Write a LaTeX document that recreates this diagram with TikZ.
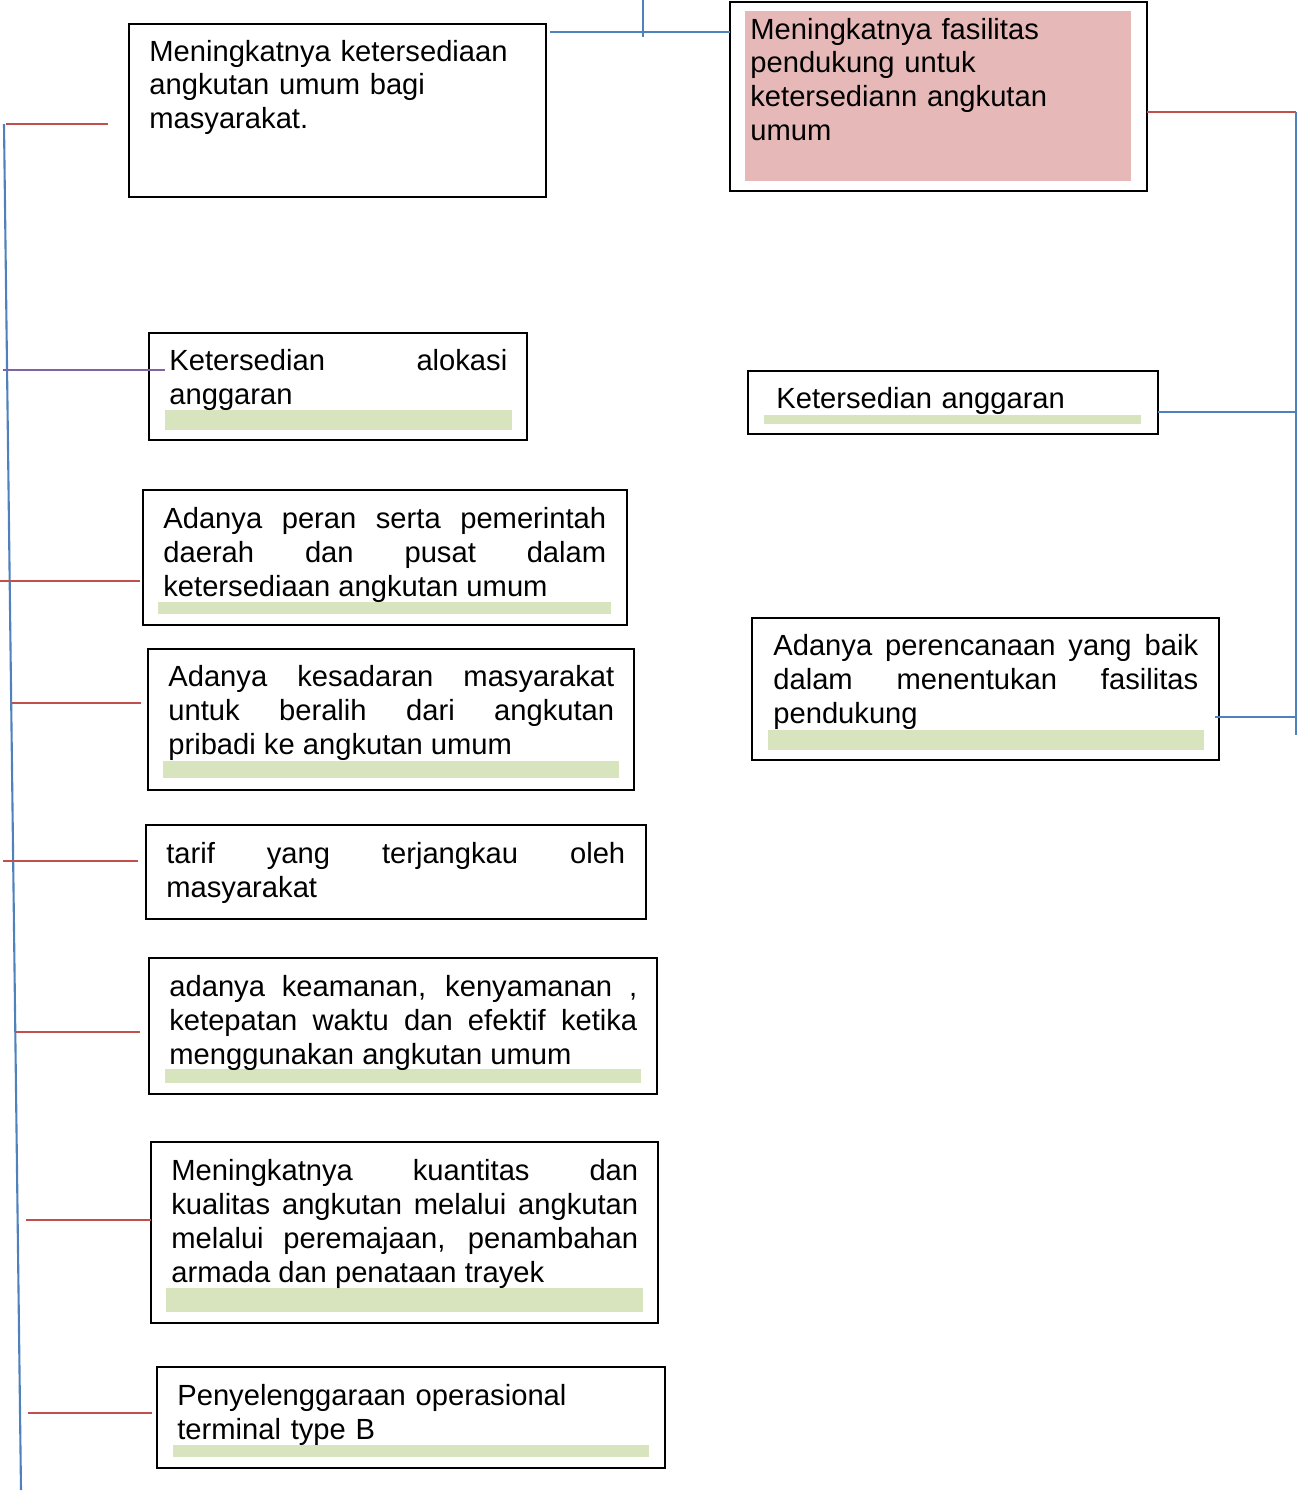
\documentclass[tikz,border=0pt]{standalone}
\usepackage{fontspec}
\setmainfont{Liberation Sans}
\usetikzlibrary{calc}
\definecolor{garisMerah}{HTML}{C0504D}
\definecolor{garisBiru}{HTML}{4F81BD}
\definecolor{garisUngu}{HTML}{8064A2}
\definecolor{isiMerah}{HTML}{E6B9B8}
\definecolor{isiHijau}{HTML}{D7E4BD}
\hbadness=10000
\hyphenpenalty=10000

\begin{document}
\begin{tikzpicture}[x=0.02cm, y=-0.02cm,
    kotak/.style 2 args={draw, line width=0.75pt, minimum width=#1cm, minimum height=#2cm, inner sep=0, outer sep=0, anchor=north west},
    teks/.style={font=\fontsize{16.6}{19.35}\selectfont, inner sep=0, anchor=base west, align=left, text width=#1cm},
    rata/.style={teks=#1, align=justify},
    merah/.style={draw=garisMerah, line width=1.2pt},
    biru/.style={draw=garisBiru, line width=1.2pt}]
            \useasboundingbox (0,0) rectangle (1297,1491);

            \node[kotak={8.34}{3.46}] (b1) at (129,24) {};
            \node[kotak={8.34}{3.78}] (b2) at (730,2) {};
            \node[kotak={7.56}{2.14}] (b3) at (149,333) {};
            \node[kotak={8.2}{1.26}] (b4) at (748,371) {};
            \node[kotak={9.68}{2.7}] (b5) at (143,490) {};
            \node[kotak={9.72}{2.82}] (b6) at (148,649) {};
            \node[kotak={10}{1.88}] (b7) at (146,825) {};
            \node[kotak={10.16}{2.72}] (b8) at (149,958) {};
            \node[kotak={10.14}{3.62}] (b9) at (151,1142) {};
            \node[kotak={10.16}{2.02}] (b10) at (157,1367) {};
            \node[kotak={9.34}{2.84}] (b11) at (752,618) {};

            \fill[isiMerah] (745,11) rectangle (1131,181);
            \fill[isiHijau] (165,410) rectangle (512,430);
            \fill[isiHijau] (764,415) rectangle (1141,424);
            \fill[isiHijau] (158,602) rectangle (611,614);
            \fill[isiHijau] (163,761) rectangle (619,778);
            \fill[isiHijau] (165,1069) rectangle (641,1083);
            \fill[isiHijau] (166,1288) rectangle (643,1312);
            \fill[isiHijau] (173,1445) rectangle (649,1457);
            \fill[isiHijau] (768,730) rectangle (1204,750);

            \node[teks=8] (t1) at (149,61) {Meningkatnya ketersediaan\\angkutan umum bagi\\masyarakat.};
            \node[teks=7.6] (t2) at (750,39) {Meningkatnya fasilitas\\pendukung untuk\\ketersediann angkutan\\umum};
            \node[rata=6.76] (t3) at (169,370) {Ketersedian alokasi\linebreak anggaran};
            \node[teks=7.6] (t4) at (776,408) {Ketersedian anggaran};
            \node[rata=8.86] (t5) at (163,528) {Adanya peran serta pemerintah\linebreak daerah dan pusat dalam\linebreak ketersediaan angkutan umum};
            \node[rata=8.92] (t6) at (168,686) {Adanya kesadaran masyarakat\linebreak untuk beralih dari angkutan\linebreak pribadi ke angkutan umum};
            \node[rata=9.18] (t7) at (166,863) {tarif yang terjangkau oleh\linebreak masyarakat};
            \node[rata=9.36] (t8) at (169,996) {adanya keamanan, kenyamanan ,\linebreak ketepatan waktu dan efektif ketika\linebreak menggunakan angkutan umum};
            \node[rata=9.34] (t9) at (171,1180) {Meningkatnya kuantitas dan\linebreak kualitas angkutan melalui angkutan\linebreak melalui peremajaan, penambahan\linebreak armada dan penataan trayek};
            \node[teks=9.5] (t10) at (177,1405) {Penyelenggaraan operasional\\terminal type B};
            \node[rata=8.5] (t11) at (773,655) {Adanya perencanaan yang baik\linebreak dalam menentukan fasilitas\linebreak pendukung};

            \coordinate (at1) at (643,0);
            \coordinate (at2) at (643,37);
            \coordinate (at3) at (643,32);
            \draw[biru] (at1) -- (at2);
            \draw[biru] ($(at3 -| b1.east)+(4,0)$) -- (at3 -| b2.west);

            \coordinate (kiA) at (4,124);
            \coordinate (kiB) at (21,1490);
            \draw[biru] (kiA) -- (kiB);
            \coordinate (r1) at (6,124);
            \coordinate (r3) at (3,370);
            \coordinate (r5) at (0,581);
            \coordinate (r6) at (12,703);
            \coordinate (r7) at (3,861);
            \coordinate (r8) at (16,1032);
            \coordinate (r9) at (26,1220);
            \coordinate (r10) at (28,1413);
            \draw[merah] (r1) -- ($(r1 -| b1.west)+(-21,0)$);
            \draw[draw=garisUngu, line width=1.2pt] (r3) -- ($(r3 -| b3.west)+(16,0)$);
            \draw[merah] (r5) -- ($(r5 -| b5.west)+(-3,0)$);
            \draw[merah] (r6) -- ($(r6 -| b6.west)+(-7,0)$);
            \draw[merah] (r7) -- ($(r7 -| b7.west)+(-8,0)$);
            \draw[merah] (r8) -- ($(r8 -| b8.west)+(-9,0)$);
            \draw[merah] (r9) -- (r9 -| b9.west);
            \draw[merah] (r10) -- ($(r10 -| b10.west)+(-5,0)$);

            \coordinate (ka1) at (1296,112);
            \coordinate (ka2) at (1296,412);
            \coordinate (ka3) at (1296,717);
            \coordinate (ka4) at (1296,735);
            \draw[merah] (ka1 -| b2.east) -- (ka1);
            \draw[biru] (ka1) -- (ka4);
            \draw[biru] (ka2 -| b4.east) -- (ka2);
            \draw[biru] ($(ka3 -| b11.east)+(-4,0)$) -- (ka3);
        \end{tikzpicture}
\end{document}
